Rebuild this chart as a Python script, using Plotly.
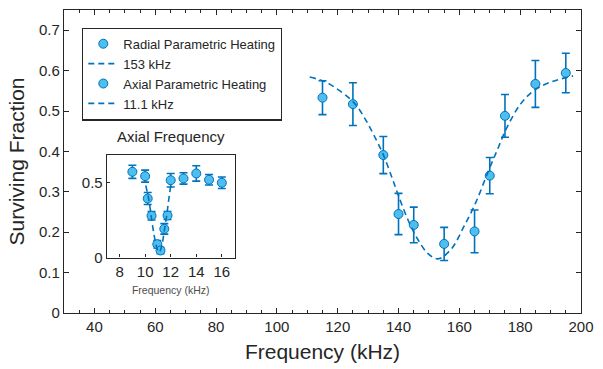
import plotly.graph_objects as go

# Radial parametric heating scan (main axes)
radial_freq = [115, 125, 135, 140, 145, 155, 165, 170, 175, 185, 195]
radial_surv = [0.533, 0.517, 0.391, 0.245, 0.218, 0.171, 0.202, 0.340, 0.488, 0.567, 0.594]
radial_err = [0.042, 0.053, 0.046, 0.051, 0.044, 0.041, 0.053, 0.045, 0.053, 0.058, 0.049]

# Fitted resonance curve, centre 153 kHz
radial_fit_x = [110.8, 115.7, 119.5, 123.8, 126.5, 129.2, 131.9, 134.8, 137.9, 140.0, 143.2,
                146.5, 149.7, 153.0, 157.3, 161.7, 165.5, 169.2, 172.5, 175.7, 180.1, 184.4,
                189.8, 197.4]
radial_fit_y = [0.584, 0.573, 0.556, 0.532, 0.510, 0.478, 0.440, 0.395, 0.334, 0.290, 0.229,
                0.180, 0.147, 0.134, 0.158, 0.217, 0.275, 0.345, 0.404, 0.460, 0.517, 0.550,
                0.571, 0.587]

# Axial parametric heating scan (inset)
axial_freq = [9, 10, 10.2, 10.5, 10.95, 11.2, 11.5, 11.75, 12, 13, 14, 15, 16]
axial_surv = [0.571, 0.542, 0.393, 0.278, 0.089, 0.047, 0.191, 0.280, 0.515, 0.527, 0.560, 0.518, 0.498]
axial_err = [0.044, 0.040, 0.040, 0.028, 0.025, 0.022, 0.035, 0.027, 0.045, 0.038, 0.051, 0.035, 0.038]

# Fitted axial resonance, centre 11.1 kHz
axial_fit_x = [10.05, 10.3, 10.5, 10.7, 10.9, 11.1, 11.3, 11.5, 11.7, 11.9, 12.05]
axial_fit_y = [0.480, 0.380, 0.260, 0.150, 0.070, 0.035, 0.080, 0.180, 0.290, 0.420, 0.500]

main_xticks = [40, 60, 80, 100, 120, 140, 160, 180, 200]
inset_xticks = [8, 10, 12, 14, 16]
inset_yticks = [0, 0.5]

BLUE = "#0072BD"
LIGHT = "rgb(77,190,238)"
AXIS = "#262626"
FONT = "Liberation Sans, Arial, Helvetica, sans-serif"

fig = go.Figure()

point_style = dict(size=9, color=LIGHT, line=dict(color=BLUE, width=1))
err_style = dict(type="data", color=BLUE, thickness=1.6, width=4)
fit_style = dict(color=BLUE, width=1.6, dash="6px,4px", shape="spline")

fig.add_trace(go.Scatter(
    x=radial_freq, y=radial_surv, mode="markers", name="Radial Parametric Heating",
    marker=point_style, error_y=dict(array=radial_err, **err_style)))
fig.add_trace(go.Scatter(
    x=radial_fit_x, y=radial_fit_y, mode="lines", name="153 kHz", line=fit_style))
fig.add_trace(go.Scatter(
    x=axial_freq, y=axial_surv, mode="markers", name="Axial Parametric Heating",
    marker=point_style, error_y=dict(array=axial_err, **err_style),
    xaxis="x2", yaxis="y2"))
fig.add_trace(go.Scatter(
    x=axial_fit_x, y=axial_fit_y, mode="lines", name="11.1 kHz", line=fit_style,
    xaxis="x2", yaxis="y2"))

frame = dict(showline=True, linecolor=AXIS, linewidth=1.3, showgrid=False, zeroline=False,
             ticks="inside", tickcolor=AXIS)

fig.update_layout(
    width=603, height=369,
    margin=dict(l=64, r=16, t=9, b=56),
    paper_bgcolor="white", plot_bgcolor="white",
    font=dict(family=FONT, color=AXIS),
    xaxis=dict(
        **frame, range=[30, 200], tickvals=main_xticks, ticklen=5, mirror="allticks",
        minor=dict(dtick=5, tick0=0, ticks="inside", ticklen=2.5, tickcolor=AXIS),
        tickfont=dict(size=15),
        title=dict(text="Frequency (kHz)", font=dict(size=21), standoff=10)),
    yaxis=dict(
        **frame, range=[0, 0.75], dtick=0.1, tick0=0, ticklen=5, mirror="allticks",
        tickfont=dict(size=15),
        title=dict(text="Surviving Fraction", font=dict(size=21), standoff=8)),
    xaxis2=dict(
        **frame, domain=[0.0828, 0.330], anchor="y2", range=[7, 17], tickvals=inset_xticks,
        ticklen=3, mirror=True, tickfont=dict(size=15),
        title=dict(text="Frequency (kHz)", font=dict(size=10.5, color="#4d4d4d"), standoff=7)),
    yaxis2=dict(
        **frame, domain=[0.183, 0.520], anchor="x2", range=[0, 0.68], tickvals=inset_yticks,
        ticktext=["0", "0.5"], ticklen=3, mirror=True, tickfont=dict(size=15)),
    legend=dict(
        x=0.035, y=0.942, xanchor="left", yanchor="top",
        bgcolor="white", bordercolor=AXIS, borderwidth=1.2,
        font=dict(size=13, color=AXIS), tracegroupgap=0),
    annotations=[dict(
        text="Axial Frequency", xref="paper", yref="paper", x=0.2065, y=0.582,
        xanchor="center", yanchor="middle", showarrow=False, font=dict(size=15, color=AXIS))],
)

fig.write_html("out.html")
